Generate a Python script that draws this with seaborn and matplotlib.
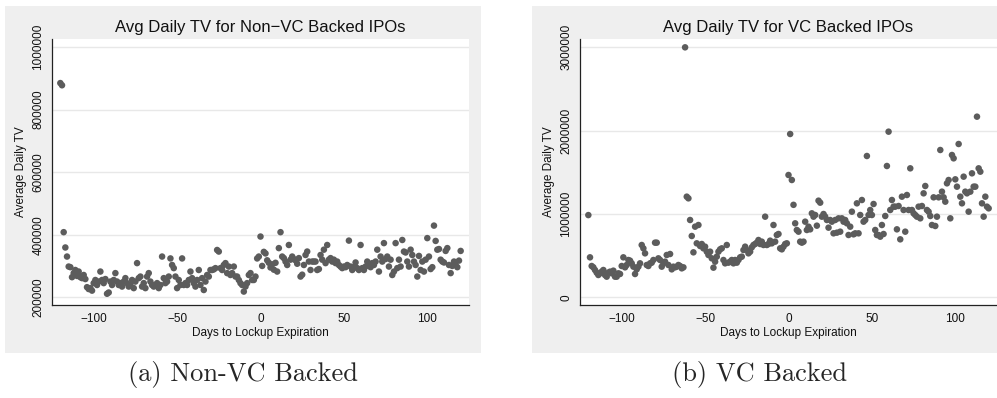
import numpy as np
import pandas as pd
import matplotlib
matplotlib.use("Agg")
import matplotlib.pyplot as plt
from matplotlib.patches import Rectangle
import seaborn as sns

# ---------------- data (values in thousands) ----------------
days = list(range(-120, 121))

nonvc_tv_k = [
    885, 878, 408, 359, 330, 298, 296, 264, 277, 287, 268, 282, 264, 261, 271, 258, 232, 226,
    229, 221, 245, 255, 239, 250, 282, 255, 245, 258,
    211, 215, 250, 239, 255, 277, 250, 239, 245, 234,
    250, 261, 245, 234, 239, 255, 229, 250, 309, 261,
    266, 234, 245, 229, 266, 277, 250, 239, 234, 239,
    245, 229, 239, 330, 261, 245, 250, 266, 324, 303,
    293, 266, 229, 255, 239, 324, 239, 245, 239, 255,
    282, 261, 245, 234, 255, 287, 239, 261, 223, 250,
    271, 266, 287, 287, 289, 293, 351, 346, 293, 287,
    303, 309, 277, 298, 271, 277, 298, 266, 266, 255,
    245, 239, 218, 234, 245, 271, 277, 255, 255, 266,
    324, 330,
    394, 300, 345, 340, 318, 310, 295, 305, 288, 310,
    282, 357, 408, 330, 325, 314, 303, 367, 320, 330,
    322, 318, 307, 325, 266, 272, 303, 335, 346, 314,
    287, 314, 314, 314, 287, 290, 335, 320, 352, 309,
    367, 320, 325, 314, 320, 309, 314, 303, 298, 293,
    298, 296, 303, 381, 298, 287, 296, 311, 293, 287,
    367, 293, 287, 298, 314, 303, 296, 309, 303, 314,
    352, 282, 330, 314, 373, 322, 330, 298, 320, 271,
    282, 373, 293, 320, 298, 383, 346, 343, 314, 298,
    352, 335, 314, 303, 266, 332, 287, 314, 282, 320,
    389, 330, 290, 296, 429, 380, 352, 354, 320, 314,
    311, 348, 357, 303, 277, 300, 314, 303, 296, 317,
    348,
]

vc_tv_k = [
    987, 480,
    376, 360, 328, 296, 268, 288, 308, 328, 268, 248,
    296, 308, 288, 320, 248, 248, 288, 280, 376, 480,
    360, 388, 448, 440, 408, 368, 280, 336, 368, 408,
    628, 588, 528, 388, 376, 408, 416, 448, 656, 656,
    468, 448, 368, 408, 428, 508, 388, 520, 336, 368,
    360, 368, 388, 376, 348, 360,
    3000, 1208, 1188, 928, 736,
    540, 848, 648, 868, 616, 640, 588, 608, 548, 508,
    548, 468, 356, 428, 488, 548, 576, 588, 448, 408,
    628, 416, 428, 448, 408, 448, 416, 448, 480, 488,
    568, 608, 568, 528, 548, 600, 628, 640, 656, 688,
    640, 668, 628, 968, 628, 640, 680, 648, 868, 668,
    748, 760, 588, 576, 608, 640, 648,
    1468, 1960, 1408, 1110, 888, 808, 788, 668, 656, 668, 908,
    808, 848, 816, 1008, 968, 988, 860, 1160, 1136, 968, 1000,
    968, 928, 836, 928, 908, 768, 928, 776, 948, 788,
    948, 908, 928, 888, 748, 848, 1028, 756, 768, 1128,
    768, 988, 1168, 908, 928, 1696, 988, 1048, 988, 1120,
    808, 748, 748, 728, 868, 760, 976, 1576, 1988, 1048,
    1168, 1088, 1088, 816, 1096, 696, 1208, 1048, 788, 1228,
    1048, 1548, 1048, 1008, 988, 968, 1088, 948, 1096, 1248,
    1336, 1048, 1028, 976, 868, 1200, 856, 968, 1200, 1768,
    1268, 1200, 1148, 1368, 1408, 948, 1708, 1668, 1416, 1328,
    1840, 1208, 1128, 1448, 1268, 1248, 1028, 1268, 1488, 1328,
    1328, 2168, 1548, 1508, 1128, 968, 1208, 1088, 1068,
]

x_ticks = [-100, -50, 0, 50, 100]
nonvc_yticks = [200000, 400000, 600000, 800000, 1000000]
vc_yticks = [0, 1000000, 2000000, 3000000]

titles = ["Avg Daily TV for Non\u2212VC Backed IPOs", "Avg Daily TV for VC Backed IPOs"]
captions = ["(a) Non-VC Backed", "(b) VC Backed"]
x_label = "Days to Lockup Expiration"
y_label = "Average Daily TV"

# ---------------- styling ----------------
sns.set_style("white")
plt.rcParams["font.family"] = ["Liberation Sans", "DejaVu Sans"]

W, H = 997, 398
fig = plt.figure(figsize=(W / 100, H / 100), dpi=100)
fig.patch.set_facecolor("white")

BG = "#efefef"
DOT = "#5c5c5c"


def fx(px):
    return px / W


def fy(py):
    return 1 - py / H


# gray panel backgrounds (Stata-like)
for (l, r) in [(5, 481), (532, 997)]:
    fig.patches.append(Rectangle((fx(l), fy(353)), fx(r - l), (353 - 6) / H,
                                 transform=fig.transFigure, facecolor=BG,
                                 edgecolor="none", zorder=-10))

panels = [
    dict(left=52, right=469, vals=nonvc_tv_k, yticks=nonvc_yticks,
         ylim=(175000, 1026000), title=titles[0], cap=captions[0], capx=243),
    dict(left=580, right=997, vals=vc_tv_k, yticks=vc_yticks,
         ylim=(-92000, 3100000), title=titles[1], cap=captions[1], capx=760),
]

for p in panels:
    ax = fig.add_axes([fx(p["left"]), fy(305), fx(p["right"] - p["left"]), (305 - 39) / H])
    ax.set_zorder(2)
    ax.set_facecolor("white")
    df = pd.DataFrame({"day": days, "tv": np.array(p["vals"], dtype=float) * 1000})
    sns.scatterplot(data=df, x="day", y="tv", ax=ax, color=DOT, s=22,
                    edgecolor="none", linewidth=0, zorder=3)
    ax.set_xlim(-125, 125)
    ax.set_ylim(*p["ylim"])
    ax.set_xticks(x_ticks)
    ax.set_yticks(p["yticks"])
    ax.set_yticklabels([str(v) for v in p["yticks"]], rotation=90, va="center")
    ax.yaxis.grid(True, color="#e8e8e8", lw=1.0)
    ax.xaxis.grid(False)
    ax.set_axisbelow(True)
    for s in ["top", "right"]:
        ax.spines[s].set_visible(False)
    for s in ["left", "bottom"]:
        ax.spines[s].set_color("#222222")
        ax.spines[s].set_linewidth(0.9)
    ax.tick_params(axis="both", direction="out", length=4, width=0.9,
                   color="#222222", labelsize=8.5, pad=1.5, labelcolor="#111111")
    ax.set_xlabel(x_label, fontsize=8.5, labelpad=2, color="#111111")
    ax.set_ylabel(y_label, fontsize=8.5, labelpad=4, color="#111111")
    ax.set_title(p["title"], fontsize=12, pad=5, color="#111111")
    fig.text(fx(p["capx"]), fy(375), p["cap"], ha="center", va="center",
             fontfamily=["cmr10", "DejaVu Serif"], fontsize=19)

fig.savefig("out.png", dpi=100, facecolor="white")
